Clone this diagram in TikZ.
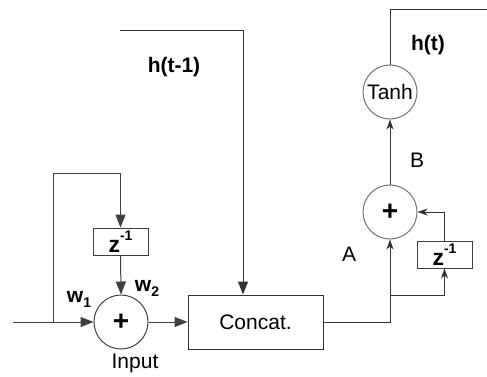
\documentclass[tikz,border=0pt]{standalone}
\usepackage{fontspec}
\setmainfont{Liberation Sans}
\usetikzlibrary{arrows.meta}
\newcommand{\lowidx}[1]{\raisebox{-0.45ex}{\fontsize{14}{16}\selectfont #1}}
\newcommand{\highidx}[1]{\raisebox{1.0ex}{\fontsize{14}{16}\selectfont #1}}
\begin{document}
\begin{tikzpicture}[x=1pt,y=-1pt,
        line width=1pt,
        lbl/.style={font=\fontsize{21}{25}\selectfont},
        blbl/.style={font=\fontsize{21}{25}\selectfont\bfseries},
        plbl/.style={font=\fontsize{28}{30}\selectfont\bfseries},
        sumnode/.style={circle, draw=black!75, minimum size=54pt, inner sep=0pt},
        delaybox/.style={draw=black!75, minimum width=55pt, minimum height=27pt, inner sep=0pt},
        bigtip/.style={-{Triangle[length=13pt,width=10pt]}},
        smalltip/.style={-{Stealth[length=10pt,width=7pt,inset=3pt]}}]
        \useasboundingbox (0,0) rectangle (487,376);

        % input side
        \node[sumnode, plbl] (sumin) at (121,322) {+};
        \node[delaybox, font=\fontsize{23}{25}\selectfont\bfseries] (zin) at (120.5,241.5) {z\highidx{-1}};
        \node[draw=black!80, minimum width=135pt, minimum height=54pt, lbl] (concat) at (255.5,322) {Concat.};
        \coordinate (xin) at (13,322);
        \coordinate (fork) at (53,322);
        \coordinate (loopup) at (53,173);

        \draw[black!75] (xin) -- (fork);
        \draw[black!75, bigtip] (fork) -- (sumin.west);
        \draw[black!75, bigtip] (fork) -- (loopup) -| (zin.north);
        \draw[black!75, bigtip] (zin.south) -- (sumin.north);
        \draw[black!75, bigtip] (sumin.east) -- (concat.west);

        % previous state
        \coordinate (hstart) at (120,30);
        \coordinate (hcorner) at (243,30);
        \draw[black!80, bigtip] (hstart) -- (hcorner) -- (hcorner |- concat.north);

        % output side
        \node[sumnode, draw=black!55, plbl] (sumout) at (390,212) {+};
        \node[delaybox, font=\fontsize{23}{25}\selectfont\bfseries] (zout) at (444.5,254.5) {z\highidx{-1}};
        \node[sumnode, draw=black!55] (tanh) at (390,92) {};
        \node[lbl, fill=white, inner sep=0.5pt] (tanhtxt) at (tanh.center) {Tanh};
        \coordinate (fork2) at (390,295);
        \coordinate (hout) at (390,9);
        \coordinate (hend) at (487,9);

        \draw[black!80, smalltip] (concat.east) -| (sumout.south);
        \draw[black!80, smalltip] (fork2) -| (zout.south);
        \draw[black!80, smalltip] (zout.north) |- (sumout.east);
        \draw[black!80, smalltip] (sumout.north) -- (tanh.south);
        \draw[black!80] (tanh.north) -- (hout) -- (hend);

        % labels
        \node[blbl] (w1) at (79,299) {w\lowidx{1}};
        \node[blbl] (w2) at (147,288) {w\lowidx{2}};
        \node[lbl] (inlbl) at (135,363) {Input};
        \node[blbl] (hprev) at (174,67) {h(t-1)};
        \node[blbl] (hnow) at (428,45) {h(t)};
        \node[lbl] (albl) at (349,254) {A};
        \node[lbl] (blbl) at (417,160) {B};
\end{tikzpicture}
\end{document}
